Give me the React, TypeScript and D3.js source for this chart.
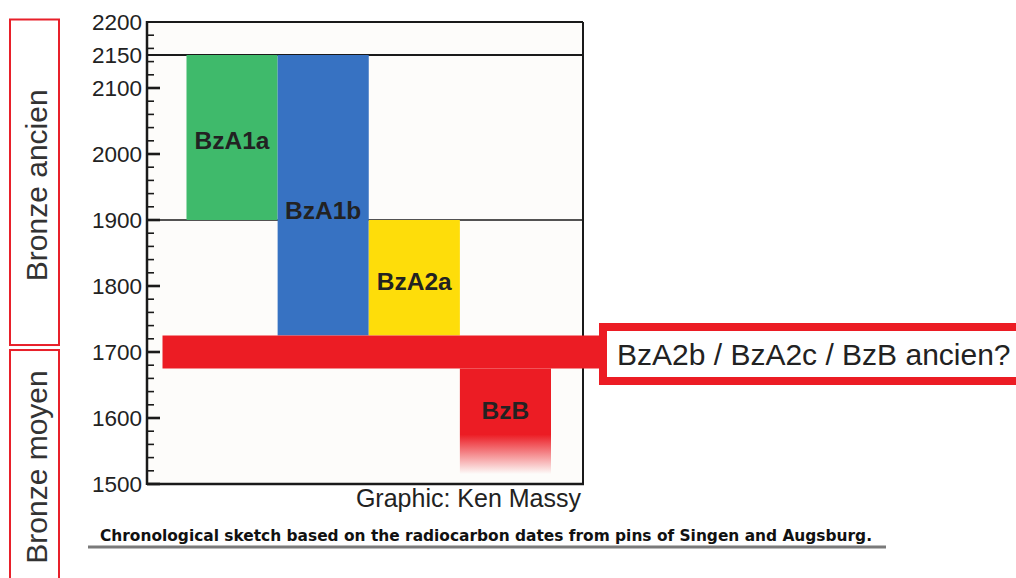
import React from "react";
import * as d3 from "d3";

const periods = ["BzA1a", "BzA1b", "BzA2a", "BzB"];
const periodStart = [2150, 2150, 1900, 1675];
const periodEnd = [1900, 1725, 1725, 1515];
const periodColors = ["#3fba6b", "#3772c2", "#fedd0a", "#ec1c24"];
const labelYears = [2007, 1901, 1794, 1598];

const transitionRange = [1725, 1675];
const transitionLabel = "BzA2b / BzA2c / BzB ancien?";

const tickLabels = [2200, 2150, 2100, 2000, 1900, 1800, 1700, 1600, 1500];
const majorTicks = [2100, 2000, 1900, 1800, 1700, 1600, 1500];
const gridLines = [2150, 1900];

const phases = ["Bronze ancien", "Bronze moyen"];
const phaseBoundary = 1703;

const credit = "Graphic: Ken Massy";
const caption = "Chronological sketch based on the radiocarbon dates from pins of Singen and Augsburg.";

const W = 1016;
const H = 578;
const plotL = 147;
const plotR = 583;
const plotT = 22;
const plotB = 484;

export default function App() {
  const y = d3.scaleLinear().domain([1500, 2200]).range([plotB, plotT]);
  const x = d3.scaleBand<string>().domain(periods).range([186.5, 551]).padding(0);
  const minorTicks = d3.range(1500, 2201, 20).filter((v) => v % 100 !== 0);
  const fadeStart = (y(1575) - y(periodStart[3])) / (y(periodEnd[3]) - y(periodStart[3]));

  const phaseY = y(phaseBoundary);
  const topBoxBottom = phaseY - 5;

  return (
    <svg
      width={W}
      height={H}
      style={{ position: "absolute", left: 0, top: 0, background: "#ffffff" }}
      fontFamily="'Liberation Sans', Arial, sans-serif"
    >
      <defs>
        <linearGradient id="bzbFade" x1="0" y1="0" x2="0" y2="1">
          <stop offset={0} stopColor={periodColors[3]} stopOpacity={1} />
          <stop offset={fadeStart} stopColor={periodColors[3]} stopOpacity={1} />
          <stop offset={1} stopColor={periodColors[3]} stopOpacity={0} />
        </linearGradient>
      </defs>

      {/* phase boxes on the left */}
      <rect x={10} y={19.5} width={49} height={topBoxBottom - 19.5} fill="none" stroke="#e8202a" strokeWidth={2} />
      <rect x={10} y={phaseY} width={49} height={H} fill="none" stroke="#e8202a" strokeWidth={2} />
      {phases.map((p, i) => {
        const cy = i === 0 ? (19.5 + topBoxBottom) / 2 + 3 : 467;
        return (
          <text
            key={p}
            transform={`translate(47,${cy}) rotate(-90)`}
            textAnchor="middle"
            fontSize={30}
            fill="#333"
          >
            {p}
          </text>
        );
      })}

      {/* plot background */}
      <rect x={plotL} y={plotT} width={plotR - plotL} height={plotB - plotT} fill="#fdfcfa" />

      {/* grid lines */}
      {gridLines.map((g, i) => (
        <line
          key={g}
          x1={plotL}
          x2={plotR}
          y1={y(g)}
          y2={y(g)}
          stroke="#1a1a1a"
          strokeWidth={i === 0 ? 2.2 : 1.5}
        />
      ))}

      {/* period bars */}
      {periods.map((p, i) => (
        <rect
          key={p}
          x={x(p)}
          y={y(periodStart[i])}
          width={x.bandwidth()}
          height={y(periodEnd[i]) - y(periodStart[i])}
          fill={i === 3 ? "url(#bzbFade)" : periodColors[i]}
        />
      ))}

      {/* frame */}
      <line x1={plotL} x2={plotR} y1={plotT} y2={plotT} stroke="#1a1a1a" strokeWidth={2} />
      <line x1={plotR} x2={plotR} y1={plotT} y2={plotB} stroke="#1a1a1a" strokeWidth={2} />
      <line x1={plotL} x2={plotR + 1} y1={plotB} y2={plotB} stroke="#1a1a1a" strokeWidth={2.5} />
      <line x1={plotL} x2={plotL} y1={plotT - 1} y2={plotB + 1} stroke="#1a1a1a" strokeWidth={2.5} />

      {/* ticks */}
      {majorTicks.map((t) => (
        <line key={"M" + t} x1={plotL} x2={plotL + 13} y1={y(t)} y2={y(t)} stroke="#1a1a1a" strokeWidth={2.6} />
      ))}
      {minorTicks.map((t) => (
        <line key={"m" + t} x1={plotL} x2={plotL + 7} y1={y(t)} y2={y(t)} stroke="#1a1a1a" strokeWidth={1.6} />
      ))}
      {tickLabels.map((t) => (
        <text key={"l" + t} x={142} y={y(t)} dy="0.36em" textAnchor="end" fontSize={22.5} fill="#222">
          {t}
        </text>
      ))}

      {/* transition band */}
      <rect
        x={162.5}
        y={y(transitionRange[0])}
        width={603 - 162.5}
        height={y(transitionRange[1]) - y(transitionRange[0])}
        fill={periodColors[3]}
      />
      <rect x={603} y={327} width={500} height={54} fill="#ffffff" stroke={periodColors[3]} strokeWidth={8} />
      <text x={617} y={365} fontSize={30} fill="#222">
        {transitionLabel}
      </text>

      {/* period labels */}
      {periods.map((p, i) => (
        <text
          key={"t" + p}
          x={(x(p) as number) + x.bandwidth() / 2}
          y={y(labelYears[i])}
          textAnchor="middle"
          fontSize={24.5}
          fontWeight="bold"
          fill="#222"
        >
          {p}
        </text>
      ))}

      {/* credit and caption */}
      <text x={581} y={507} textAnchor="end" fontSize={25} fill="#222">
        {credit}
      </text>
      <text
        x={100}
        y={541}
        fontSize={15}
        fontWeight="bold"
        fontFamily="'DejaVu Sans Condensed', 'DejaVu Sans', sans-serif"
        fill="#111"
        textLength={772}
        lengthAdjust="spacingAndGlyphs"
      >
        {caption}
      </text>
      <line x1={88} x2={886} y1={547} y2={547} stroke="#7a7a7a" strokeWidth={3} />
    </svg>
  );
}
